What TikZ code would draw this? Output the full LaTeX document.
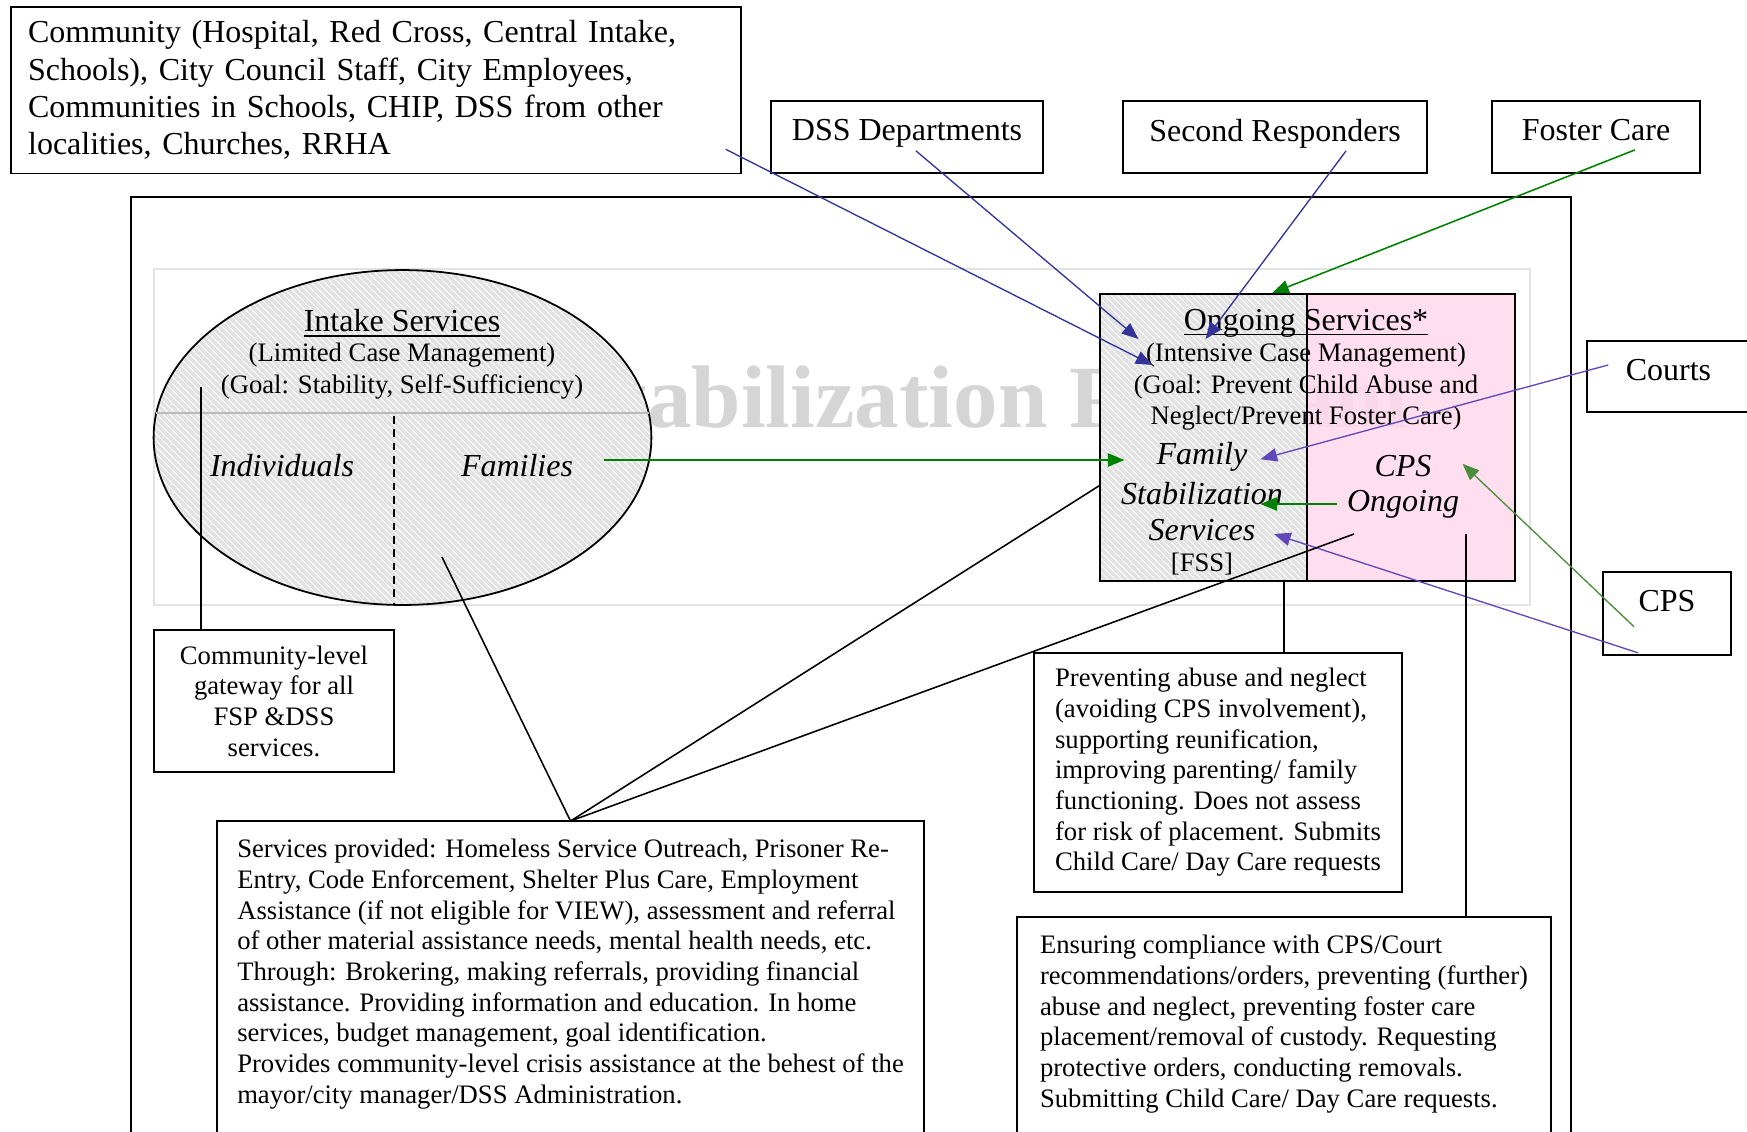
\documentclass[tikz,border=0pt]{standalone}
\usepackage{fontspec}
\setmainfont{Liberation Serif}
\usepackage{tikz}
\usetikzlibrary{shapes.geometric, arrows.meta, patterns}
\definecolor{navyline}{RGB}{51,51,153}
\definecolor{courtline}{RGB}{96,72,184}
\definecolor{fostergreen}{RGB}{0,128,0}
\definecolor{cpsgreen}{RGB}{76,140,60}
\definecolor{cpspink}{RGB}{255,217,236}
\definecolor{hatchgray}{RGB}{226,226,226}
\newcommand{\Lg}{\fontsize{14.4pt}{16.8pt}\selectfont}
\newcommand{\Sm}{\fontsize{12pt}{13.8pt}\selectfont}
\newcommand{\Ul}[1]{\setbox0\hbox{#1}\rlap{\rule[-2.4pt]{\wd0}{0.6pt}}\box0}

\begin{document}
\begin{tikzpicture}[x=0.45pt, y=-0.45pt,
    box/.style={draw, line width=0.8pt, inner sep=0pt, fill=white},
    onebox/.style={box, font=\Lg, text depth=6pt},
    lbl/.style={inner sep=1pt},
    hatch/.style={preaction={fill=hatchgray}, pattern=north west lines, pattern color=white},
    blk/.style={line width=0.7pt},
    navyarr/.style={navyline, line width=0.6pt, -{Triangle[length=7.5pt,width=6pt]}},
    courtarr/.style={courtline, line width=0.6pt, -{Triangle[length=7.5pt,width=6pt]}},
    greenarr/.style={fostergreen, line width=0.7pt, -{Triangle[length=7.5pt,width=6pt]}},
    cpsarr/.style={cpsgreen, line width=0.6pt, -{Triangle[length=7.5pt,width=6pt]}}]
    \useasboundingbox (0,0) rectangle (1747,1131);
    \clip (0,0) rectangle (1747,1131);

    % Marco general y marca de agua
    \draw[line width=1pt] (131,197) rectangle (1571,1150);
    \draw[gray!22, line width=1.3pt] (154,269) rectangle (1530,605);
    \node[anchor=base, inner sep=0pt, font=\fontsize{40pt}{40pt}\selectfont\bfseries, text=gray!33] (mark) at (844,427) {Family Stabilization Program};

    % Intake
    \node[ellipse, draw, line width=0.8pt, hatch, minimum width=224pt, minimum height=150.7pt, inner sep=0pt] (intake) at (402.5,437.5) {};
    \draw[gray!55, line width=0.9pt] (156,413) -- (649,413);
    \draw[line width=0.7pt, dash pattern=on 3.5pt off 2.5pt] (394,416) -- (394,603);
    \node[lbl, font=\Lg] (intakeT) at (402,323) {\Ul{Intake Services}};
    \node[lbl, font=\Sm] (intakeL) at (402,355) {(Limited Case Management)};
    \node[lbl, font=\Sm] (intakeG) at (402,387) {(Goal: Stability, Self-Sufficiency)};
    \node[lbl, font=\Lg\itshape] (indiv) at (282,466) {Individuals};
    \node[lbl, font=\Lg\itshape] (fams) at (517,466) {Families};

    % Ongoing
    \node[draw, line width=0.8pt, hatch, minimum width=93.15pt, minimum height=129.15pt, inner sep=0pt, anchor=north west] (fssbox) at (1099,293) {};
    \node[draw, line width=0.8pt, fill=cpspink, fill opacity=0.85, minimum width=93.6pt, minimum height=129.15pt, inner sep=0pt, anchor=north west] (cpsbox) at (1306,293) {};
    \node[lbl, font=\Lg] (ongT) at (1306,323) {\Ul{Ongoing Services*}};
    \node[lbl, font=\Sm] (ongL) at (1306,355) {(Intensive Case Management)};
    \node[lbl, font=\Sm] (ongG) at (1306,387) {(Goal: Prevent Child Abuse and};
    \node[lbl, font=\Sm] (ongN) at (1306,418) {Neglect/Prevent Foster Care)};
    \node[lbl, font=\Lg\itshape] (fam) at (1202,457) {Family};
    \node[lbl, font=\Lg\itshape] (stab) at (1202,494) {Stabilization};
    \node[lbl, font=\Lg\itshape] (serv) at (1202,530) {Services};
    \node[lbl, font=\Sm] (fss) at (1202,564) {[FSS]};
    \node[lbl, font=\Lg\itshape] (cpsT) at (1403,466) {CPS};
    \node[lbl, font=\Lg\itshape] (cpsO) at (1403,504) {Ongoing};

    % Cajas de fuera
    \node[box, anchor=north west, minimum width=328.5pt, minimum height=75pt, text width=313pt, align=left, font=\Lg] (comm) at (10,6)
        {Community (Hospital, Red Cross, Central Intake,\\ Schools), City Council Staff, City Employees,\\ Communities in Schools, CHIP, DSS from other\\ localities, Churches, RRHA};
    \node[onebox, minimum width=122.4pt, minimum height=32.4pt] (dss) at (907,137) {DSS Departments};
    \node[onebox, minimum width=136.8pt, minimum height=32.4pt] (second) at (1275,137) {Second Responders};
    \node[onebox, minimum width=93.6pt, minimum height=32.4pt] (foster) at (1596,137) {Foster Care};
    \node[onebox, minimum width=73.4pt, minimum height=32pt] (courts) at (1668.5,376.5) {Courts};
    \node[onebox, text depth=11.8pt, minimum width=57.6pt, minimum height=37.4pt] (cps) at (1667,613.5) {CPS};
    \node[box, minimum width=108pt, minimum height=64pt, align=center, font=\Sm] (gate) at (274,701)
        {Community-level\\ gateway for all\\ FSP \&DSS\\ services.};
    \node[box, minimum width=165.6pt, minimum height=107.5pt, align=left, font=\Sm] (prev) at (1218,772.5)
        {Preventing abuse and neglect\\ (avoiding CPS involvement),\\ supporting reunification,\\ improving parenting/ family\\ functioning. Does not assess\\ for risk of placement. Submits\\ Child Care/ Day Care requests};
    \node[anchor=north, minimum width=318pt, inner xsep=0pt, inner ysep=8pt, align=left, font=\Sm] (svc) at (570.5,821)
        {Services provided: Homeless Service Outreach, Prisoner Re-\\
         Entry, Code Enforcement, Shelter Plus Care, Employment\\
         Assistance (if not eligible for VIEW), assessment and referral\\
         of other material assistance needs, mental health needs, etc.\\
         Through: Brokering, making referrals, providing financial\\
         assistance. Providing information and education. In home\\
         services, budget management, goal identification.\\
         Provides community-level crisis assistance at the behest of the\\
         mayor/city manager/DSS Administration.};
    \draw[line width=0.8pt] (svc.north west) rectangle ([yshift=-60pt]svc.south east);
    \node[anchor=north, minimum width=240pt, inner xsep=0pt, inner ysep=8pt, align=left, font=\Sm] (ens) at (1284,917)
        {Ensuring compliance with CPS/Court\\
         recommendations/orders, preventing (further)\\
         abuse and neglect, preventing foster care\\
         placement/removal of custody. Requesting\\
         protective orders, conducting removals.\\
         Submitting Child Care/ Day Care requests.};
    \draw[line width=0.8pt] (ens.north west) rectangle ([yshift=-60pt]ens.south east);

    % Flechas
    \coordinate (intakeFoot) at (442,557);
    \coordinate (cpsFoot) at (1354,534);
    \draw[navyarr] ([xshift=-7.2pt,yshift=11.3pt]comm.south east) -- ([xshift=4.1pt,yshift=-4.5pt]ongL.west);
    \draw[navyarr] ([xshift=4pt,yshift=10.4pt]dss.south) -- ([xshift=-19.2pt,yshift=-7.2pt]ongT.west);
    \draw[navyarr] ([xshift=32pt,yshift=10.4pt]second.south) -- ([xshift=11pt,yshift=-7.2pt]ongT.west);
    \draw[greenarr] ([xshift=17.5pt,yshift=10.8pt]foster.south) -- ([xshift=-16pt]fssbox.north east);
    \draw[greenarr] ([xshift=12.6pt,yshift=2.7pt]fams.east) -- ([xshift=-13.3pt,yshift=2.7pt]fams.east -| fam.west);
    \draw[courtarr] ([xshift=10pt,yshift=5.2pt]courts.west) -- ([xshift=4.7pt,yshift=-1pt]fam.east);
    \draw[greenarr] ([xshift=-3.5pt]cpsO.west) -- ([xshift=-11.3pt]cpsO.west -| stab.east);
    \draw[cpsarr] ([xshift=14.4pt,yshift=-6pt]cps.west) -- ([xshift=12.8pt,yshift=1pt]cpsT.east);
    \draw[courtarr] ([xshift=16.2pt,yshift=1.4pt]cps.south west) -- ([xshift=7.2pt,yshift=-1.8pt]serv.east);

    % Lineas negras
    \draw[blk] ([xshift=21.6pt]gate.north west) -- ([xshift=21.6pt]gate.north west |- intakeG.center);
    \draw[blk] (svc.north) -- (intakeFoot);
    \draw[blk] (svc.north) -- ([yshift=-21.8pt]fssbox.west);
    \draw[blk] (svc.north) -- (cpsFoot);
    \draw[blk] ([xshift=29.7pt]prev.north) -- ([xshift=29.7pt]prev.north |- fssbox.south);
    \draw[blk] ([xshift=81.9pt]ens.north) -- ([xshift=81.9pt]ens.north |- cpsFoot);
\end{tikzpicture}
\end{document}
